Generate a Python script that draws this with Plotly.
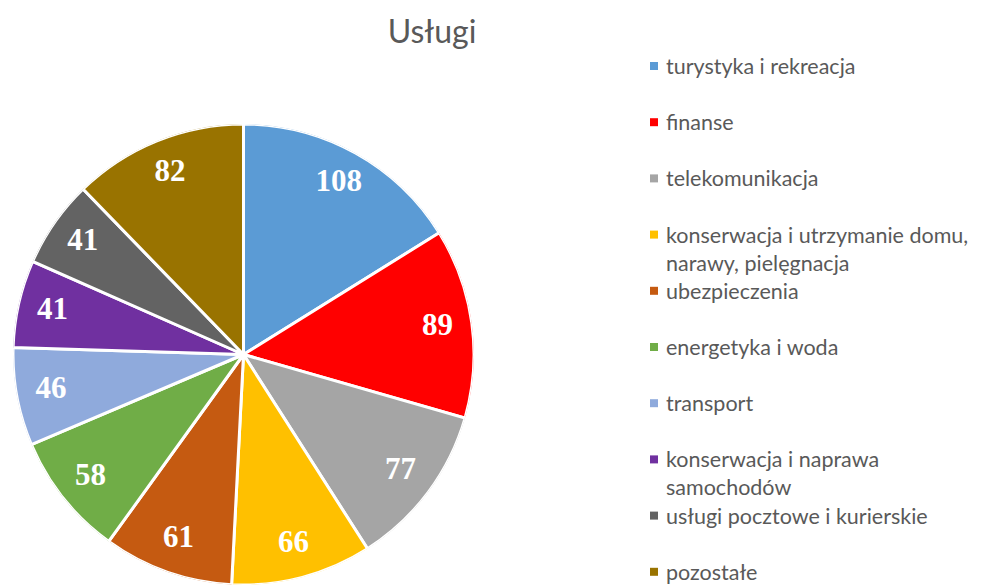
import plotly.graph_objects as go

categories = [
    "turystyka i rekreacja",
    "finanse",
    "telekomunikacja",
    "konserwacja i utrzymanie domu,<br>narawy, pielęgnacja",
    "ubezpieczenia",
    "energetyka i woda",
    "transport",
    "konserwacja i naprawa<br>samochodów",
    "usługi pocztowe i kurierskie",
    "pozostałe",
]
values = [108, 89, 77, 66, 61, 58, 46, 41, 41, 82]
colors = ["#5B9BD5", "#FF0000", "#A5A5A5", "#FFC000", "#C55A11",
          "#70AD47", "#8FAADC", "#7030A0", "#636363", "#997300"]
title_text = "Usługi"

OFF = 8  # default page body margin
W, H = 985 - OFF, 585 - OFF
MT, MB, ML, MR = 116, 0, 5, 0
plot_h = H - MT - MB
plot_w = W - ML - MR
pie_dom = dict(x=[0, plot_h / plot_w], y=[0, 1])

# slice geometry from the data (angles in degrees, clockwise from 12 o'clock)
total = sum(values)
cum = 0
mid_angles, widths = [], []
for v in values:
    widths.append(v / total * 360)
    mid_angles.append((cum + v / 2) / total * 360)
    cum += v

fig = go.Figure()
fig.add_trace(go.Barpolar(
    theta=mid_angles,
    r=[1] * len(values),
    width=widths,
    marker=dict(color=colors, line=dict(color="white", width=3)),
    text=categories,
    customdata=values,
    hovertemplate="%{text}: %{customdata}<extra></extra>",
    showlegend=False,
))
fig.add_trace(go.Scatterpolar(
    theta=mid_angles,
    r=[0.85] * len(values),
    mode="text",
    text=[str(v) for v in values],
    textfont=dict(family="Liberation Serif", size=31, color="white", weight="bold"),
    showlegend=False,
    hoverinfo="skip",
))

def py_to_paper(py):
    return (H - MB - (py - OFF)) / plot_h

def px_to_paper(px):
    return (px - OFF - ML) / plot_w

slot0, slot_step = 66, 56.2
shapes = []
annotations = []
for i, (cat, col) in enumerate(zip(categories, colors)):
    yc = slot0 + i * slot_step
    shapes.append(dict(
        type="rect", xref="paper", yref="paper",
        x0=px_to_paper(650), x1=px_to_paper(658),
        y0=py_to_paper(yc + 4), y1=py_to_paper(yc - 4),
        fillcolor=col, line=dict(width=0),
    ))
    annotations.append(dict(
        text=cat, xref="paper", yref="paper",
        x=px_to_paper(664), y=py_to_paper(yc - 15),
        xanchor="left", yanchor="top", align="left",
        showarrow=False,
        font=dict(family="Lato", size=21.5, color="#595959"),
    ))

fig.update_layout(
    width=W, height=H,
    margin=dict(t=MT, b=MB, l=ML, r=MR, pad=0),
    paper_bgcolor="white",
    plot_bgcolor="white",
    polar=dict(
        domain=pie_dom,
        bgcolor="rgba(0,0,0,0)",
        bargap=0,
        hole=0,
        radialaxis=dict(range=[0, 1], visible=False, showgrid=False),
        angularaxis=dict(rotation=90, direction="clockwise", visible=False, showgrid=False),
    ),
    title=dict(
        text=title_text, x=(432 - OFF) / W, xref="container", xanchor="center",
        y=1 - (32 - OFF) / H, yref="container", yanchor="middle",
        font=dict(family="Lato", size=32, color="#595959"),
    ),
    shapes=shapes,
    annotations=annotations,
)

fig.write_html("out.html")
